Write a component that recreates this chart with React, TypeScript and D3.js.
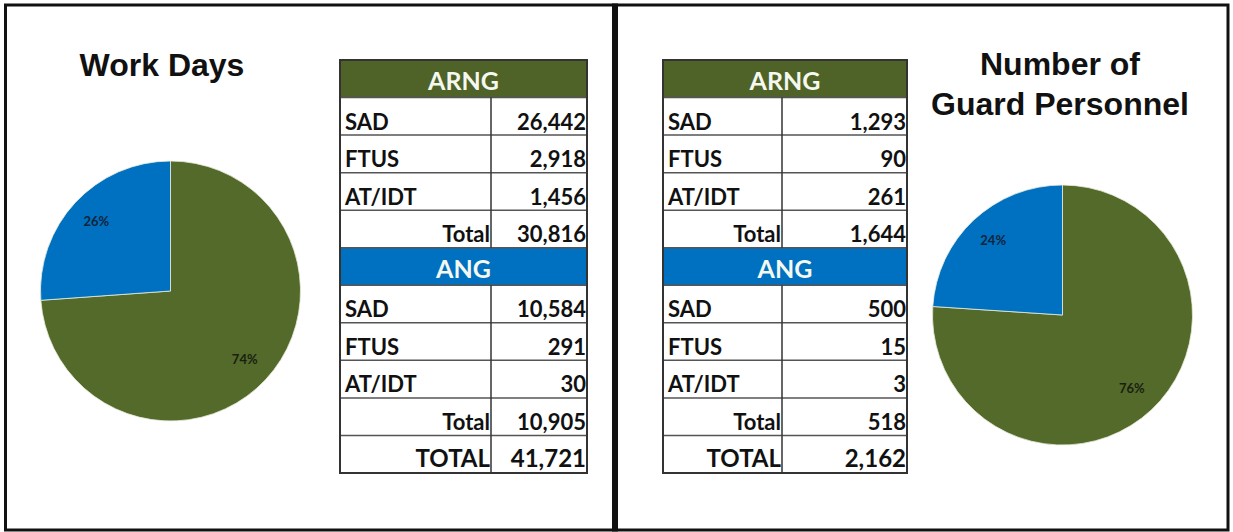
import React from "react";
import * as d3 from "d3";

const categories = ["SAD", "FTUS", "AT/IDT"];
const workDaysARNG = [26442, 2918, 1456];
const workDaysANG = [10584, 291, 30];
const personnelARNG = [1293, 90, 261];
const personnelANG = [500, 15, 3];
const groupNames = ["ARNG", "ANG"];
const pieTitles = [["Work Days"], ["Number of", "Guard Personnel"]];

const GREEN = "#4F6228";
const PIE_GREEN = "#536A2B";
const BLUE = "#0070C0";
const fmt = d3.format(",");
const TABLE_FONT = "Lato, 'Open Sans', sans-serif";
const TITLE_FONT = "'Liberation Sans', Arial, sans-serif";

type Row = { kind: "header" | "item" | "total" | "grand"; label: string; value?: number; color?: string };

function buildRows(arng: number[], ang: number[]): Row[] {
  const rows: Row[] = [];
  rows.push({ kind: "header", label: groupNames[0], color: GREEN });
  categories.forEach((c, i) => rows.push({ kind: "item", label: c, value: arng[i] }));
  rows.push({ kind: "total", label: "Total", value: d3.sum(arng) });
  rows.push({ kind: "header", label: groupNames[1], color: BLUE });
  categories.forEach((c, i) => rows.push({ kind: "item", label: c, value: ang[i] }));
  rows.push({ kind: "total", label: "Total", value: d3.sum(ang) });
  rows.push({ kind: "grand", label: "TOTAL", value: d3.sum(arng) + d3.sum(ang) });
  return rows;
}

function Table({ x0, x1, xd, rows }: { x0: number; x1: number; xd: number; rows: Row[] }) {
  const y = d3.scaleBand<number>().domain(d3.range(rows.length)).range([60, 473]).padding(0);
  const bw = y.bandwidth();
  return (
    <g>
      {rows.map((r, i) => {
        const top = y(i)!;
        if (r.kind === "header") {
          return (
            <g key={i}>
              <rect x={x0} y={top} width={x1 - x0} height={bw} fill={r.color} />
              <text x={(x0 + x1) / 2} y={top + 30} textAnchor="middle" fill="#F4F8EE"
                fontFamily={TABLE_FONT} fontWeight={700} fontSize={25}>{r.label}</text>
            </g>
          );
        }
        const isTot = r.kind !== "item";
        const fs = r.kind === "grand" ? 24 : 22;
        return (
          <g key={i}>
            <text x={isTot ? xd - 1 : x0 + 5} y={top + 32} textAnchor={isTot ? "end" : "start"}
              fontFamily={TABLE_FONT} fontWeight={700} fontSize={fs} fill="#111">{r.label}</text>
            <text x={x1 - 1} y={top + 32} textAnchor="end"
              fontFamily={TABLE_FONT} fontWeight={700} fontSize={fs} fill="#111">{fmt(r.value!)}</text>
          </g>
        );
      })}
      {rows.map((r, i) => {
        if (i === 0) return null;
        const yy = y(i)!;
        return <line key={"h" + i} x1={x0} x2={x1} y1={yy} y2={yy} stroke="#555" strokeWidth={1.5} />;
      })}
      {rows.map((r, i) =>
        r.kind === "header" ? null : (
          <line key={"v" + i} x1={xd} x2={xd} y1={y(i)!} y2={y(i)! + bw} stroke="#333" strokeWidth={1.5} />
        )
      )}
      <rect x={x0} y={60} width={x1 - x0} height={473 - 60} fill="none" stroke="#333" strokeWidth={2} />
    </g>
  );
}

function Pie({ cx, cy, r, values }: { cx: number; cy: number; r: number; values: number[] }) {
  const pie = d3.pie<number>().sort(null).value((d) => d);
  const arcs = pie(values);
  const arc = d3.arc<d3.PieArcDatum<number>>().innerRadius(0).outerRadius(r);
  const labelArc = d3.arc<d3.PieArcDatum<number>>().innerRadius(r * 0.78).outerRadius(r * 0.78);
  const total = d3.sum(values);
  const colors = [PIE_GREEN, BLUE];
  const pct = d3.format(".0%");
  return (
    <g transform={`translate(${cx},${cy})`}>
      {arcs.map((a, i) => (
        <path key={i} d={arc(a)!} fill={colors[i]} stroke="#E8EEDC" strokeWidth={0.8} />
      ))}
      {arcs.map((a, i) => {
        const [lx, ly] = labelArc.centroid(a);
        return (
          <text key={"l" + i} x={lx} y={ly + 4} textAnchor="middle" fontFamily={TABLE_FONT}
            fontSize={13} fontWeight={700} fill={i === 0 ? "#1A1F10" : "#10243A"}>{pct(a.data / total)}</text>
        );
      })}
    </g>
  );
}

export default function App() {
  const leftRows = buildRows(workDaysARNG, workDaysANG);
  const rightRows = buildRows(personnelARNG, personnelANG);
  return (
    <div style={{ position: "absolute", left: 0, top: 0 }}>
      <svg width={1233} height={532} style={{ display: "block", background: "#fff" }}>
        <rect x={5.5} y={5} width={1222.5} height={525} fill="#fff" stroke="#111" strokeWidth={3} />
        <line x1={615} x2={615} y1={3.5} y2={531.5} stroke="#111" strokeWidth={6} />

        <text x={162} y={76} textAnchor="middle" fontFamily={TITLE_FONT} fontWeight={700} fontSize={32} fill="#111">{pieTitles[0][0]}</text>
        {pieTitles[1].map((t, i) => (
          <text key={i} x={1060} y={75 + i * 40} textAnchor="middle" fontFamily={TITLE_FONT} fontWeight={700} fontSize={32} fill="#111">{t}</text>
        ))}

        <Pie cx={170.5} cy={291} r={130} values={[d3.sum(workDaysARNG), d3.sum(workDaysANG)]} />
        <Pie cx={1062.5} cy={315} r={130} values={[d3.sum(personnelARNG), d3.sum(personnelANG)]} />

        <Table x0={340} x1={587} xd={491} rows={leftRows} />
        <Table x0={663} x1={907} xd={782} rows={rightRows} />
      </svg>
    </div>
  );
}
